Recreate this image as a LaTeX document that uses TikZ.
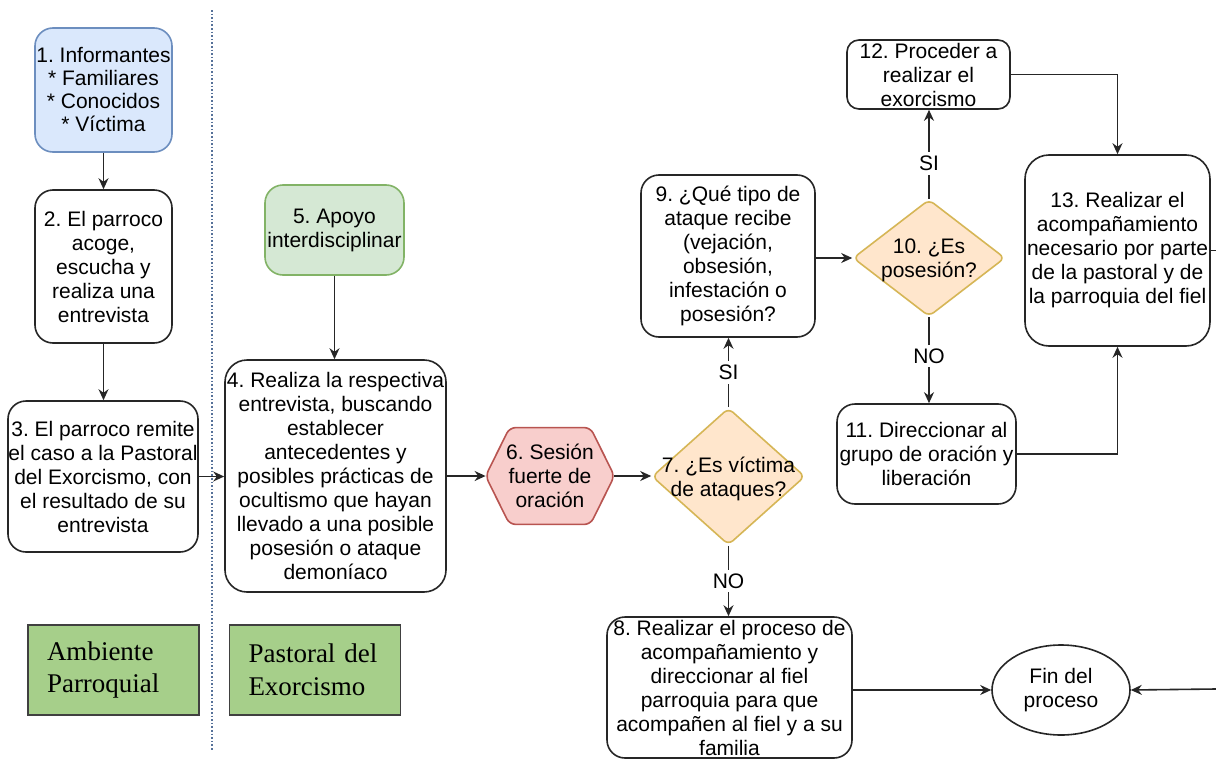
\documentclass[tikz,border=0pt]{standalone}
\usepackage{fontspec}
\setmainfont{Liberation Sans}
\newfontfamily\serifA{Liberation Serif}
\usetikzlibrary{arrows.meta,shapes.geometric}
\frenchspacing
\definecolor{edgec}{HTML}{262626}
\definecolor{bluef}{HTML}{DAE8FC}
\definecolor{blued}{HTML}{6C8EBF}
\definecolor{greenf}{HTML}{D5E8D4}
\definecolor{greend}{HTML}{82B366}
\definecolor{redf}{HTML}{F8CECC}
\definecolor{redd}{HTML}{B85450}
\definecolor{orangef}{HTML}{FFE6CC}
\definecolor{oranged}{HTML}{D6B656}
\definecolor{areaf}{HTML}{A6CF8A}
\tikzset{
  box/.style={draw=edgec, line width=0.8pt, rounded corners=9pt, align=center, inner sep=0pt, fill=white},
  arr/.style={-{Stealth[length=5.5pt,width=5pt]}, line width=0.8pt, draw=edgec},
  plain/.style={line width=0.8pt, draw=edgec},
  lbl/.style={fill=white, inner sep=2pt},
  area/.style={draw=black!75, line width=0.8pt, fill=areaf, align=left, text width=66.5pt, inner xsep=9.5pt, minimum height=45pt, font=\serifA\fontsize{13.5}{16.5}\selectfont},
  dia/.style={diamond, draw=oranged, fill=orangef, line width=0.8pt, inner sep=0pt, rounded corners=3pt},
}
\begin{document}
\begin{tikzpicture}[x=0.5pt,y=-0.5pt,font=\fontsize{10.5}{12}\selectfont]
\useasboundingbox (0,0) rectangle (1216,760);
\fill[white] (0,0) rectangle (1216,760);
% separator
\coordinate (s1) at (212,10);
\coordinate (s2) at (212,750);
\draw[blued!80!black, densely dotted, line width=0.8pt] (s1) -- (s2);

% nodes
\node[box, fill=bluef, draw=blued, minimum width=68.5pt, minimum height=62pt, font=\fontsize{10.5}{11.5}\selectfont] (n1) at (103.5,90) {1. Informantes\\* Familiares\\* Conocidos\\* Víctima};
\node[box, minimum width=68.5pt, minimum height=76.5pt] (n2) at (103.5,266.5) {2. El parroco\\acoge,\\escucha y\\realiza una\\entrevista};
\node[box, minimum width=95pt, minimum height=75.5pt] (n3) at (103,476.5) {3. El parroco remite\\el caso a la Pastoral\\del Exorcismo, con\\el resultado de su\\entrevista};
\node[area] (ap) at (113.5,670) {Ambiente\\Parroquial};
\node[area] (pe) at (315,670) {Pastoral del\\Exorcismo};
\node[box, fill=greenf, draw=greend, minimum width=69.5pt, minimum height=45pt] (n5) at (334.5,230) {5. Apoyo\\interdisciplinar};
\node[box, rounded corners=11pt, minimum width=110.5pt, minimum height=116pt] (n4) at (335.5,476) {4. Realiza la respectiva\\entrevista, buscando\\establecer\\antecedentes y\\posibles prácticas de\\ocultismo que hayan\\llevado a una posible\\posesión o ataque\\demoníaco};
% hexagon 6
\node[minimum width=64pt, minimum height=48pt, inner sep=0pt] (n6) at (550,476) {};
\draw[draw=redd, fill=redf, line width=0.8pt, rounded corners=3pt] (n6.west) -- ([xshift=12pt]n6.north west) -- ([xshift=-12pt]n6.north east) -- (n6.east) -- ([xshift=-12pt]n6.south east) -- ([xshift=12pt]n6.south west) -- cycle;
\node[align=center] (t6) at (n6) {6. Sesión\\fuerte de\\oración};
% diamond 7
\node[dia, minimum width=76.5pt, minimum height=68.5pt] (n7) at (728.5,476.5) {};
\node[align=center] (t7) at (728.5,479) {7. ¿Es víctima\\de ataques?};
\node[box, minimum width=122.5pt, minimum height=70.5pt] (n8) at (729.5,687.5) {8. Realizar el proceso de\\acompañamiento y\\direccionar al fiel\\parroquia para que\\acompañen al fiel y a su\\familia};
\node[ellipse, draw=edgec, line width=0.8pt, minimum width=69pt, minimum height=45pt, inner sep=0pt, align=center] (fin) at (1061,690) {Fin del\\proceso};
\node[box, minimum width=87pt, minimum height=81pt] (n9) at (728,256) {9. ¿Qué tipo de\\ataque recibe\\(vejación,\\obsesión,\\infestación o\\posesión?};
\node[dia, minimum width=76pt, minimum height=58.5pt] (n10) at (929,258) {};
\node[align=center] (t10) at (929,260) {10. ¿Es\\posesión?};
\node[box, minimum width=89.5pt, minimum height=50pt] (n11) at (926.5,454) {11. Direccionar al\\grupo de oración y\\liberación};
\node[box, rounded corners=6pt, minimum width=81.5pt, minimum height=34.5pt] (n12) at (928.5,74.5) {12. Proceder a\\realizar el\\exorcismo};
\node[box, rounded corners=12pt, minimum width=92.5pt, minimum height=95.5pt] (n13) at (1117.5,250.5) {13. Realizar el\\acompañamiento\\necesario por parte\\de la pastoral y de\\la parroquia del fiel};
\coordinate (e1) at (1216,250.5);
\coordinate (e2) at (1216,689);

% connectors
\draw[arr] (n1.south) -- (n1.south |- n2.north);
\draw[arr] (n2.south) -- (n2.south |- n3.north);
\draw[arr] (n3.east) -- (n3.east -| n4.west);
\draw[arr] (n5.south) -- (n5.south |- n4.north);
\draw[arr] (n4.east) -- (n4.east -| n6.west);
\draw[arr] (n6.east) -- (n6.east -| n7.west);
\draw[arr] (n7.north) -- node[lbl]{SI} (n7.north |- n9.south);
\draw[arr] (n7.south) -- node[lbl]{NO} (n7.south |- n8.north);
\draw[arr] (n9.east |- n10.west) -- (n10.west);
\draw[arr] (n10.north) -- node[lbl, pos=0.4]{SI} (n10.north |- n12.south);
\draw[arr] (n10.south) -- node[lbl, pos=0.45]{NO} (n10.south |- n11.north);
\draw[arr] (n12.east) -| (n13.north);
\draw[arr] (n11.east) -| (n13.south);
\draw[arr] (n8.east |- fin.west) -- (fin.west);
\draw[arr] (e2) -- (fin.east);
\draw[plain] (n13.east) -- (e1);
\end{tikzpicture}
\end{document}
